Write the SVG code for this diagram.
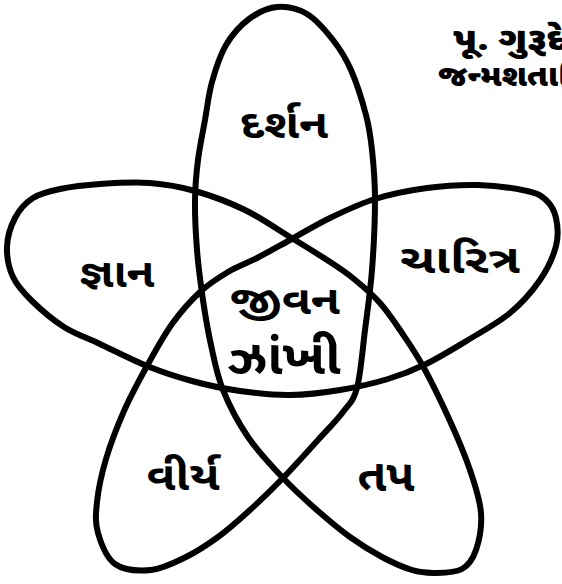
<svg xmlns="http://www.w3.org/2000/svg" width="562" height="584" viewBox="0 0 562 584">
<style>
.star{fill:none;stroke:#000;stroke-width:6;stroke-linejoin:round;stroke-linecap:round}
.lbl{font-family:'Noto Sans Gujarati','Noto Serif Gujarati','Lohit Gujarati','Noto Sans',sans-serif;font-weight:bold;fill:#000;text-anchor:middle}
.hdr{font-family:'Noto Sans Gujarati','Noto Serif Gujarati','Lohit Gujarati','Noto Sans',sans-serif;font-weight:900;fill:#000}
</style>
<rect width="562" height="584" fill="#fff"/>
<g id="connectors">
<path class="star" d="M 277 7 C 267.3 7.8 257.5 12.7 249 19 S 232.2 34.5 226 45 S 215.5 69.5 212 82 S 207.3 107 205 120 S 199.7 146.7 198 160 S 195.2 185 195 200 S 195.7 233.3 197 250 S 200.7 284.2 203 300 S 207.7 330 211 345 S 216.8 374.7 223 390 S 238 422.3 248 437 S 271.3 465.7 283 478 S 306.8 501.2 318 511 S 339.3 529.3 350 537 S 371.7 551.5 382 557 S 403.2 567.3 412 570 S 426.7 573.2 435 573 S 455.2 572.8 462 569 S 472.8 559.3 476 550 S 482 526.3 481 513 S 475.2 485.3 470 470 S 457.7 438 450 421 S 432 382.7 424 368 S 409.3 343.8 402 333 S 388 312 380 303 S 362.8 286.2 354 279 S 337.7 267 327 260 S 303.7 245.3 290 237 S 260.8 217.7 245 210 S 210.8 195.5 195 191 S 165.8 184.2 150 183 S 115 183 100 184 S 71.2 186.7 60 189 S 40.5 193.2 33 198 S 19.3 209.8 15 218 S 7.3 237.2 7 247 S 8.8 268 13 277 S 23.5 292.7 32 301 S 52.7 319.8 64 327 S 86.2 337.5 100 344 S 131.7 359.8 147 366 S 176.5 376.8 192 381 S 223.7 388.7 240 391 S 273.3 395.2 290 395 S 323.7 392.7 340 390 S 373.7 383.3 388 379 S 412.7 370.5 426 364 S 454 348.5 468 340 S 498 323 510 313 S 532.3 291.2 540 280 S 553.3 256.3 556 246 S 557.7 225.7 556 218 S 550.8 204.5 546 200 S 538.3 193.5 527 191 S 494.7 185.5 478 185 S 444.2 185.7 427 188 S 391.2 194 375 199 S 344.2 211.2 330 218 S 302.2 233.3 290 240 S 267.3 252.7 257 258 S 237.5 266.3 228 272 S 209.3 283.3 200 292 S 180.8 311.7 172 324 S 155 351.5 147 366 S 130.8 395.5 124 411 S 110.5 443.8 106 459 S 98.3 489.7 97 502 S 95 522.7 98 533 S 106.2 557.8 115 564 S 139.2 571.2 151 570 S 174.8 562.5 186 557 S 207.3 544.8 218 537 S 239.2 519.8 250 510 S 271.7 489.7 283 478 S 308 451 318 440 S 336.5 420.7 343 412 S 353.3 401.7 357 388 S 362.5 349.7 365 330 S 370.3 291.8 372 270 S 375 219 375 199 S 373.5 164 372 150 S 369.5 128.3 366 115 S 356.5 82.5 351 70 S 340.3 49.3 333 40 S 316.3 19.5 307 14 S 286.7 6.2 277 7 Z"/>
</g>
<g id="darshan"><text class="lbl" x="284" y="138" font-size="40" textLength="88" lengthAdjust="spacingAndGlyphs">દર્શન</text></g>
<g id="gnan"><text class="lbl" x="117" y="287" font-size="40" textLength="75" lengthAdjust="spacingAndGlyphs">જ્ઞાન</text></g>
<g id="charitra"><text class="lbl" x="460" y="273" font-size="40" textLength="120" lengthAdjust="spacingAndGlyphs">ચારિત્ર</text></g>
<g id="jivan"><text class="lbl" x="285" y="314" font-size="40" textLength="110" lengthAdjust="spacingAndGlyphs">જીવન</text><text class="lbl" x="284" y="374" font-size="48" textLength="113" lengthAdjust="spacingAndGlyphs">ઝાંખી</text></g>
<g id="virya"><text class="lbl" x="183" y="490" font-size="40" textLength="73" lengthAdjust="spacingAndGlyphs">વીર્ય</text></g>
<g id="tap"><text class="lbl" x="386" y="491" font-size="44" textLength="57" lengthAdjust="spacingAndGlyphs">તપ</text></g>
<g id="header"><text class="hdr" x="453" y="50" font-size="32" textLength="138" lengthAdjust="spacingAndGlyphs">પૂ. ગુરૂદેવ</text><text class="hdr" x="438" y="86" font-size="30" textLength="165" lengthAdjust="spacingAndGlyphs">જન્મશતાબ્દિ</text></g>
</svg>
